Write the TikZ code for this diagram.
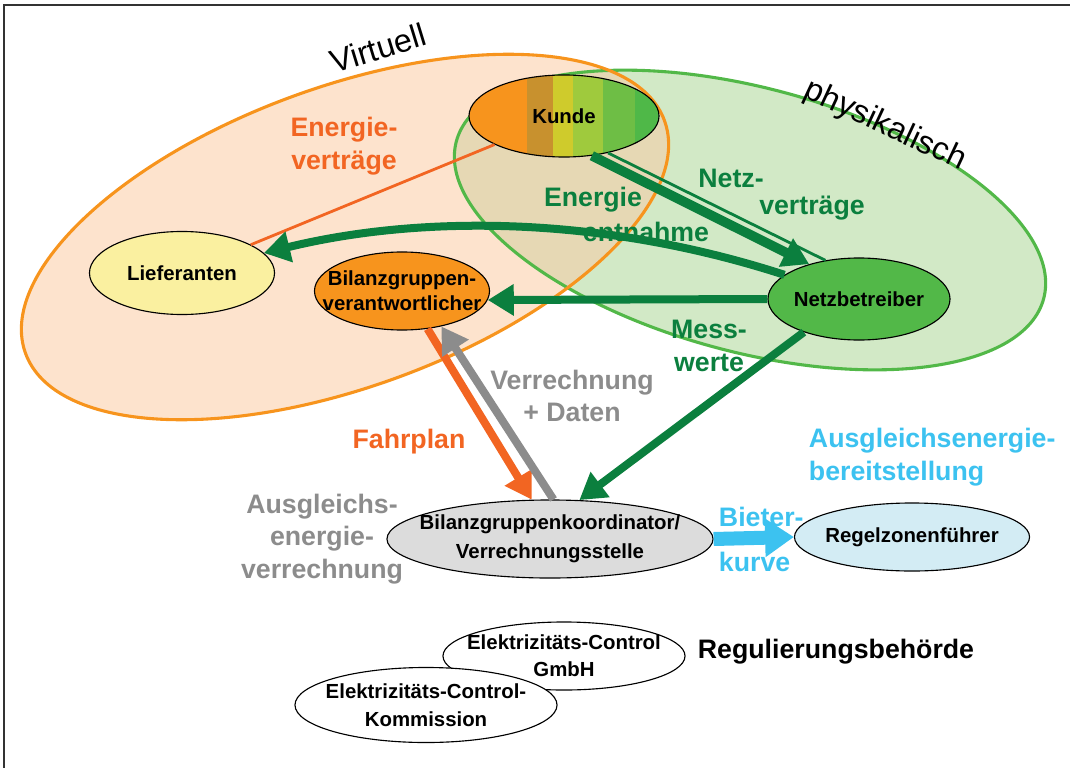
\documentclass[tikz,border=0pt]{standalone}
\usepackage{fontspec}
\setmainfont{Liberation Sans}
\usetikzlibrary{shapes.geometric, arrows.meta}

\definecolor{vorange}{HTML}{F7941D}
\definecolor{vpeach}{HTML}{FDE3CD}
\definecolor{pgreen}{HTML}{52B848}
\definecolor{pfill}{HTML}{D2E9C6}
\definecolor{overlap}{HTML}{E6D8B4}
\definecolor{dgreen}{HTML}{0B7F3E}
\definecolor{redorange}{HTML}{F26522}
\definecolor{dgray}{HTML}{8C8C8C}
\definecolor{cyanblue}{HTML}{3CC2F0}
\definecolor{liefyellow}{HTML}{FAF0A0}
\definecolor{bgkgray}{HTML}{DCDCDC}
\definecolor{regelblue}{HTML}{D3ECF4}
\definecolor{kA}{HTML}{F7941D}
\definecolor{kB}{HTML}{C8912E}
\definecolor{kC}{HTML}{CFCB2C}
\definecolor{kD}{HTML}{9FCA3D}
\definecolor{kE}{HTML}{6EBE45}
\definecolor{kF}{HTML}{4FB848}

\begin{document}
\begin{tikzpicture}[x=0.025cm, y=-0.025cm,
  ent/.style={ellipse, draw, line width=0.8pt, inner xsep=-0.6cm, inner ysep=0pt,
              align=center, font=\fontsize{14.5}{18}\selectfont\bfseries},
  lbl/.style={align=center, font=\fontsize{19}{23}\selectfont\bfseries},
  region/.style={font=\fontsize{23}{26}\selectfont},
  flow/.style={-{Triangle[length=0.65cm,width=0.75cm]}, line width=0.2cm}
]
\useasboundingbox (0,0) rectangle (1070,768);

% Frame
\draw[black!80, line width=1.2pt] (4,768) -- (4,5) -- (1070,5);

% Regions: virtual (orange) and physical (green)
\fill[vpeach, rotate around={20:(345,237)}] (345,237) ellipse [x radius=340, y radius=150];
\fill[pfill, rotate around={-15:(750,220)}] (750,220) ellipse [x radius=304, y radius=132];
\begin{scope}
  \clip[rotate around={20:(345,237)}] (345,237) ellipse [x radius=340, y radius=150];
  \fill[overlap, rotate around={-15:(750,220)}] (750,220) ellipse [x radius=304, y radius=132];
\end{scope}
\draw[pgreen, line width=2.2pt, rotate around={-15:(750,220)}] (750,220) ellipse [x radius=304, y radius=132];
\draw[vorange, line width=2.2pt, rotate around={20:(345,237)}] (345,237) ellipse [x radius=340, y radius=150];

\node[region, rotate=17] (virtuell) at (378,48) {Virtuell};
\node[region, rotate=-25] (physik) at (885,126) {physikalisch};

% Kunde stripes
\begin{scope}
  \clip (564,116) ellipse [x radius=95, y radius=41];
  \fill[kA] (460,70) rectangle (527,160);
  \fill[kB] (527,70) rectangle (553,160);
  \fill[kC] (553,70) rectangle (573,160);
  \fill[kD] (573,70) rectangle (603,160);
  \fill[kE] (603,70) rectangle (635,160);
  \fill[kF] (635,70) rectangle (670,160);
\end{scope}

% Entities
\node[ent, minimum width=4.75cm, minimum height=2.05cm] at (564,116) (kunde) {Kunde};
\node[ent, fill=liefyellow, minimum width=4.625cm, minimum height=2.075cm] at (182,273) (lief) {Lieferanten};
\node[ent, fill=vorange, minimum width=4.375cm, minimum height=1.95cm] at (402,291) (bgv) {Bilanzgruppen-\\verantwortlicher};
\node[ent, fill=pgreen, minimum width=4.55cm, minimum height=2.05cm] at (859,299) (netz) {Netzbetreiber};
\node[ent, fill=bgkgray, minimum width=8.15cm, minimum height=1.95cm, font=\fontsize{14.5}{21}\selectfont\bfseries] at (550,539) (bgk) {Bilanzgruppenkoordinator/\\Verrechnungsstelle};
\node[ent, fill=regelblue, minimum width=5.875cm, minimum height=1.7cm] at (912,537) (regel) {Regelzonenführer};
\node[ent, fill=white, minimum width=6.05cm, minimum height=1.7cm, font=\fontsize{14.5}{19}\selectfont\bfseries] at (564,656) (ecg) {Elektrizitäts-Control\\GmbH};
\node[ent, fill=white, minimum width=6.55cm, minimum height=1.875cm, font=\fontsize{14.5}{20}\selectfont\bfseries] at (426,705) (eck) {Elektrizitäts-Control-\\Kommission};

% Connectors
\draw[redorange, line width=0.07cm] (kunde) -- (lief);
\draw[flow, dgreen] (netz) .. controls (600,215) and (420,215) .. (lief);
\draw[flow, dgreen] (netz.west) -- (bgv.-6);
\draw[flow, dgreen, line width=0.24cm] (kunde.-55) -- (netz.145);
\draw[dgreen, line width=0.07cm] (kunde.-40) -- (netz.131);
\draw[flow, dgreen] (netz.-149) -- (bgk.53);
\draw[flow, redorange] (bgv.-56) -- (bgk.115);
\draw[flow, dgray] (bgk.85) -- (bgv.-42);
\draw[-{Triangle[length=0.72cm,width=0.92cm]}, cyanblue, line width=0.35cm] (bgk.east) -- (regel.west);

% Labels
\node[lbl, text=redorange] (lenergie) at (344,146) {Energie-\\verträge};
\node[lbl, text=dgreen] (lentn1) at (593,200) {Energie};
\node[lbl, text=dgreen] (lentn2) at (646,232) {entnahme};
\node[lbl, text=dgreen] (lnetz1) at (731,178) {Netz-};
\node[lbl, text=dgreen] (lnetz2) at (812,208) {verträge};
\node[lbl, text=dgreen] (lmess) at (709,346) {Mess-\\werte};
\node[lbl, text=dgray] (lverr) at (572,396) {Verrechnung\\+ Daten};
\node[lbl, text=redorange] (lfahr) at (409,442) {Fahrplan};
\node[lbl, text=cyanblue, anchor=west, align=left] (lbereit) at (804,457) {Ausgleichsenergie-\\bereitstellung};
\node[lbl, text=dgray] (lausgl) at (322,539) {Ausgleichs-\\energie-\\verrechnung};
\node[lbl, text=cyanblue, anchor=west] (lbieter) at (714,517) {Bieter-};
\node[lbl, text=cyanblue, anchor=west] (lkurve) at (714,562) {kurve};
\node[lbl, font=\fontsize{19}{23}\selectfont\bfseries] (lregul) at (836,652) {Regulierungsbehörde};
\end{tikzpicture}
\end{document}
